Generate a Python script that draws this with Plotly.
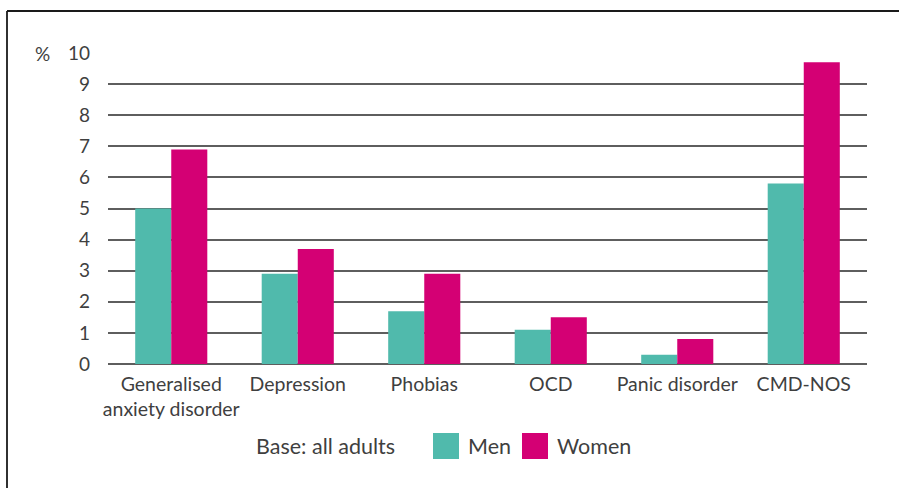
import plotly.graph_objects as go

# Prevalence of common mental disorders by type and sex (%)
categories = ["Generalised<br>anxiety disorder", "Depression", "Phobias", "OCD",
              "Panic disorder", "CMD-NOS"]
men = [5.0, 2.9, 1.7, 1.1, 0.3, 5.8]
women = [6.9, 3.7, 2.9, 1.5, 0.8, 9.7]
y_ticks = [0, 1, 2, 3, 4, 5, 6, 7, 8, 9, 10]

TEAL = "#50BAAC"
MAGENTA = "#D40074"
TEXT = "#3f3f3f"
GRID = "#5e5e5e"
FONT = "Lato"

W, H = 899, 488
L, R, T, B = 108, 32, 53, 124
pw, ph = W - L - R, H - T - B


def px_x(x):
    return (x - L) / pw


def px_y(y):
    return (H - B - y) / ph


fig = go.Figure()
fig.add_trace(go.Bar(x=categories, y=men, name="Men", marker_color=TEAL,
                     marker_line_width=0))
fig.add_trace(go.Bar(x=categories, y=women, name="Women", marker_color=MAGENTA,
                     marker_line_width=0))

fig.update_layout(
    width=W, height=H,
    margin=dict(l=L, r=R, t=T, b=B),
    paper_bgcolor="white", plot_bgcolor="white",
    barmode="group", bargap=0.43, bargroupgap=0,
    showlegend=False,
    font=dict(family=FONT, size=19, color=TEXT),
)
fig.update_yaxes(
    range=[0, 10], tickvals=y_ticks, ticktext=[str(v) for v in y_ticks],
    showgrid=True, gridcolor=GRID, gridwidth=1.6,
    zeroline=True, zerolinecolor=GRID, zerolinewidth=1.6,
    showline=False, ticks="", ticklabelstandoff=17,
    tickfont=dict(family=FONT, size=19, color=TEXT),
)
fig.update_xaxes(
    showgrid=False, showline=False, ticks="", ticklabelstandoff=6,
    tickfont=dict(family=FONT, size=19.5, color=TEXT),
)

# unit label
fig.add_annotation(x=px_x(42), y=px_y(53), xref="paper", yref="paper",
                   text="%", showarrow=False, font=dict(size=19, color=TEXT),
                   xanchor="center", yanchor="middle")

# frame lines (top and left)
fig.add_shape(type="line", xref="paper", yref="paper",
              x0=px_x(7), x1=px_x(899), y0=px_y(11), y1=px_y(11),
              line=dict(color="#1a1a1a", width=1.8))
fig.add_shape(type="line", xref="paper", yref="paper",
              x0=px_x(7), x1=px_x(7), y0=px_y(11), y1=px_y(488),
              line=dict(color="#1a1a1a", width=1.8))

# legend
fig.add_annotation(x=px_x(397), y=px_y(446), xref="paper", yref="paper",
                   text="Base: all adults", showarrow=False,
                   font=dict(size=21.5, color=TEXT), xanchor="right", yanchor="middle")
for x0, color, label in [(433, TEAL, "Men"), (522, MAGENTA, "Women")]:
    fig.add_shape(type="rect", xref="paper", yref="paper",
                  x0=px_x(x0), x1=px_x(x0 + 26), y0=px_y(433), y1=px_y(459),
                  fillcolor=color, line=dict(width=0))
    fig.add_annotation(x=px_x(x0 + 33), y=px_y(446), xref="paper", yref="paper",
                       text=label, showarrow=False,
                       font=dict(size=21.5, color=TEXT), xanchor="left", yanchor="middle")

fig.write_html("out.html")
